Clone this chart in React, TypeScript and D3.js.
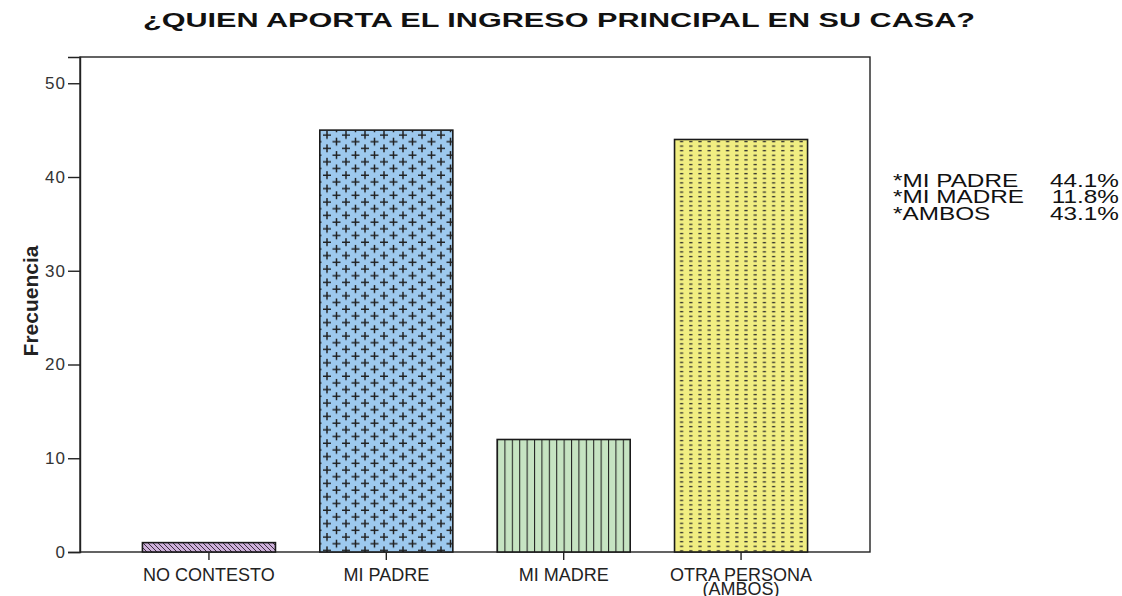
import { useEffect, useRef } from 'react';
import * as d3 from 'd3';

const categories = ['NO CONTESTO', 'MI PADRE', 'MI MADRE', 'OTRA PERSONA|(AMBOS)'];
const frecuencia = [1, 45, 12, 44];
const yTicks = [0, 10, 20, 30, 40, 50];
const notaLabels = ['*MI PADRE', '*MI MADRE', '*AMBOS'];
const notaValues = ['44.1%', '11.8%', '43.1%'];

const W = 1122;
const H = 596;

export default function App() {
  const ref = useRef<SVGSVGElement>(null);

  useEffect(() => {
    if (!ref.current) return;
    const svg = d3.select(ref.current);
    svg.selectAll('*').remove();

    const left = 80, right = 870, top = 57, bottom = 552;
    const x = d3.scaleBand<string>()
      .domain(categories)
      .range([left, right])
      .paddingInner(0.25)
      .paddingOuter(0.352);
    const y = d3.scaleLinear().domain([0, 52.8]).range([bottom, top]);
    const font = 'Liberation Sans, Arial, sans-serif';

    // patterns
    const defs = svg.append('defs');
    const p1 = defs.append('pattern').attr('id', 'pNo').attr('patternUnits', 'userSpaceOnUse')
      .attr('width', 5).attr('height', 5);
    p1.append('rect').attr('width', 5).attr('height', 5).attr('fill', '#cdb0da');
    p1.append('path').attr('d', 'M-1,-1 L6,6 M-1,4 L1,6 M4,-1 L6,1')
      .attr('stroke', '#3a2a3a').attr('stroke-width', 1);

    const p2 = defs.append('pattern').attr('id', 'pPadre').attr('patternUnits', 'userSpaceOnUse')
      .attr('width', 19).attr('height', 13.4).attr('x', 322).attr('y', 131);
    p2.append('rect').attr('width', 19).attr('height', 13.4).attr('fill', '#9dc9ee');
    p2.append('path')
      .attr('d', 'M1,4 H9 M5,0 V8 M10.5,10.7 H18.5 M14.5,6.7 V14.7 M14.5,-1.3 V1.3')
      .attr('stroke', '#222').attr('stroke-width', 1.5);

    const p3 = defs.append('pattern').attr('id', 'pMadre').attr('patternUnits', 'userSpaceOnUse')
      .attr('width', 7.4).attr('height', 10).attr('x', 497);
    p3.append('rect').attr('width', 7.4).attr('height', 10).attr('fill', '#c6e4c2');
    p3.append('line').attr('x1', 0.5).attr('x2', 0.5).attr('y1', 0).attr('y2', 10)
      .attr('stroke', '#222').attr('stroke-width', 1.1);

    const p4 = defs.append('pattern').attr('id', 'pOtra').attr('patternUnits', 'userSpaceOnUse')
      .attr('width', 9.2).attr('height', 4.6).attr('x', 677).attr('y', 140);
    p4.append('rect').attr('width', 9.2).attr('height', 4.6).attr('fill', '#f1ee82');
    p4.append('line').attr('x1', 3).attr('x2', 6.2).attr('y1', 1.5).attr('y2', 1.5)
      .attr('stroke', '#2a2a2a').attr('stroke-width', 1.3);

    const fills = ['url(#pNo)', 'url(#pPadre)', 'url(#pMadre)', 'url(#pOtra)'];

    // frame
    svg.append('rect').attr('x', left).attr('y', top).attr('width', right - left)
      .attr('height', bottom - top).attr('fill', '#fff').attr('stroke', '#222').attr('stroke-width', 1.4);

    // bars
    svg.append('g').selectAll('rect')
      .data(categories)
      .enter().append('rect')
      .attr('x', d => x(d)!)
      .attr('width', x.bandwidth())
      .attr('y', (_, i) => y(frecuencia[i]))
      .attr('height', (_, i) => bottom - y(frecuencia[i]))
      .attr('fill', (_, i) => fills[i])
      .attr('stroke', '#1a1a1a')
      .attr('stroke-width', 1.6);

    // y axis
    const yAxis = d3.axisLeft(y).tickValues(yTicks).tickSize(12).tickPadding(2).tickFormat(d3.format('d'));
    const gy = svg.append('g').attr('transform', `translate(${left},0)`).call(yAxis);
    gy.select('.domain').attr('stroke', '#222').attr('stroke-width', 1.4);
    gy.selectAll('.tick line').attr('stroke', '#222').attr('stroke-width', 1.4);
    gy.selectAll('.tick text').attr('font-family', font)
      .attr('font-size', 17).attr('letter-spacing', 1).attr('fill', '#333');

    // x axis
    const xAxis = d3.axisBottom(x).tickSize(8).tickPadding(6).tickFormat(() => '');
    const gx = svg.append('g').attr('transform', `translate(0,${bottom})`).call(xAxis);
    gx.select('.domain').remove();
    gx.selectAll('.tick line').attr('stroke', '#222').attr('stroke-width', 1.4);
    gx.selectAll('.tick text').each(function (d) {
      const t = d3.select(this);
      const parts = String(d).split('|');
      t.text(null).attr('font-family', font)
        .attr('font-size', 18).attr('fill', '#222').attr('y', 16);
      parts.forEach((s, k) => {
        t.append('tspan').attr('x', 0).attr('dy', k === 0 ? '0.71em' : '0.8em').text(s);
      });
    });

    // title (glyphs stretched horizontally as in the original)
    svg.append('text')
      .attr('x', 559).attr('y', 27)
      .attr('text-anchor', 'middle')
      .attr('font-family', font)
      .attr('font-weight', 'bold')
      .attr('font-size', 20)
      .attr('textLength', 832)
      .attr('lengthAdjust', 'spacingAndGlyphs')
      .attr('fill', '#111')
      .text('¿QUIEN APORTA EL INGRESO PRINCIPAL EN SU CASA?');

    // y label
    svg.append('text')
      .attr('transform', 'translate(38,301) rotate(-90)')
      .attr('text-anchor', 'middle')
      .attr('font-family', font)
      .attr('font-weight', 'bold')
      .attr('font-size', 21)
      .attr('fill', '#222')
      .text('Frecuencia');

    // note
    const sx = 1.28;
    const note = svg.append('g').attr('transform', `translate(893,0) scale(${sx},1)`)
      .attr('font-family', font).attr('font-size', 19).attr('fill', '#111');
    notaLabels.forEach((s, i) => {
      note.append('text').attr('x', 0).attr('y', 187 + i * 16.5).text(s);
      note.append('text').attr('x', (1119 - 893) / sx).attr('y', 187 + i * 16.5)
        .attr('text-anchor', 'end').text(notaValues[i]);
    });
  }, []);

  return <svg ref={ref} width={W} height={H} style={{ display: 'block', position: 'absolute', left: 0, top: 0 }} />;
}
